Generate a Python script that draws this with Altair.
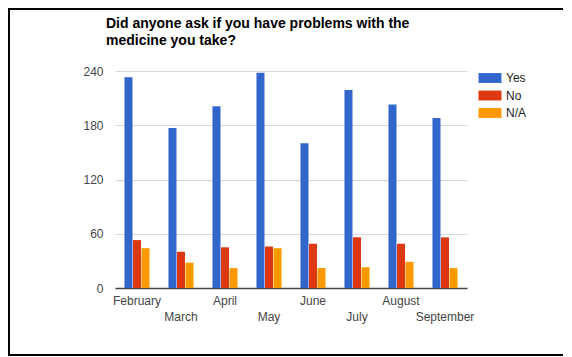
import altair as alt
import pandas as pd

months = ["February", "March", "April", "May", "June", "July", "August", "September"]
yes = [233, 177, 201, 238, 160, 219, 203, 188]
no = [53, 40, 45, 46, 49, 56, 49, 56]
na = [44, 28, 22, 44, 22, 23, 29, 22]
series = ["Yes", "No", "N/A"]
colors = ["#3366cc", "#dc3912", "#ff9900"]
y_ticks = [0, 60, 120, 180, 240]
title_lines = ["Did anyone ask if you have problems with the", "medicine you take?"]

rows = []
for i, m in enumerate(months):
    for s, vals in zip(series, [yes, no, na]):
        rows.append({"month": m, "answer": s, "count": vals[i]})
df = pd.DataFrame(rows)

W, H = 352, 217
FONT = "Liberation Sans"

one = pd.DataFrame({"a": [0]})
frame_left = alt.Chart(one).mark_rule(color="black", strokeWidth=2, clip=False).encode(
    x=alt.value(-106), y=alt.value(-63), y2=alt.value(285)
)
frame_top = alt.Chart(one).mark_rule(color="black", strokeWidth=2, clip=False).encode(
    x=alt.value(-107), x2=alt.value(448), y=alt.value(-62)
)
frame_bottom = alt.Chart(one).mark_rule(color="black", strokeWidth=2, clip=False).encode(
    x=alt.value(-107), x2=alt.value(448), y=alt.value(284)
)

stagger = "indexof(['March','May','July','September'], datum.value) >= 0 ? ['', datum.value] : datum.value"

bars = alt.Chart(df).mark_bar().encode(
    x=alt.X(
        "month:N", sort=months,
        scale=alt.Scale(paddingInner=0.43, paddingOuter=0.215),
        axis=alt.Axis(
            title=None, labelAngle=0, labelExpr=stagger, labelLineHeight=16,
            labelPadding=7, ticks=False, domainColor="#444", domainWidth=1.5,
            labelFontSize=12, labelColor="#444", labelFont=FONT, labelBaseline="top",
        ),
    ),
    xOffset=alt.XOffset("answer:N", sort=series, scale=alt.Scale(paddingInner=0.06, paddingOuter=0)),
    y=alt.Y(
        "count:Q", scale=alt.Scale(domain=[0, 240], nice=False),
        axis=alt.Axis(
            title=None, values=y_ticks, domain=False, ticks=False, labelPadding=12,
            gridColor="#d9d9d9", gridWidth=1, labelFontSize=12, labelColor="#444",
            labelFont=FONT,
        ),
    ),
    color=alt.Color(
        "answer:N", sort=series,
        scale=alt.Scale(domain=series, range=colors),
        legend=alt.Legend(
            title=None, orient="none", legendX=369, legendY=1, padding=0,
            symbolType="M-2,-0.86H2V0.86H-2Z", symbolSize=132, symbolStrokeWidth=0,
            labelFontSize=12, labelFont=FONT, labelColor="#222", labelOffset=10,
            rowPadding=5.5,
        ),
    ),
)

chart = alt.layer(frame_left, frame_top, frame_bottom, bars).properties(
    width=W, height=H,
    autosize=alt.AutoSizeParams(type="none"),
    padding={"left": 107, "top": 63, "right": 97, "bottom": 69},
    title=alt.Title(
        title_lines, anchor="start", fontSize=14, font=FONT, fontWeight="bold",
        color="#000", lineHeight=17, dx=-9, offset=-41, frame="group",
    ),
).configure_view(stroke=None)

chart.save("out.html", embed_options={"renderer": "svg", "actions": False})
